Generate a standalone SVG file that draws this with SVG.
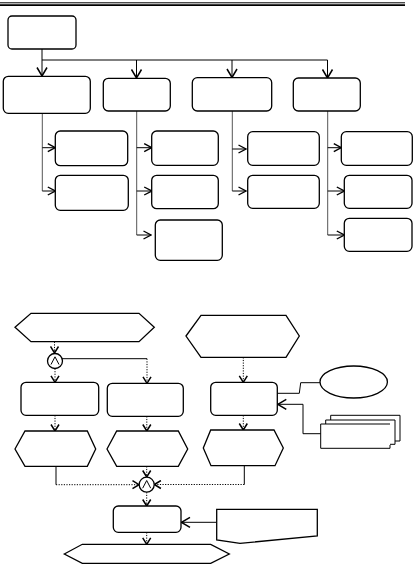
<svg xmlns="http://www.w3.org/2000/svg" width="414" height="565" viewBox="0 0 414 565">
<style>
.b{fill:#fff;stroke:#000;stroke-width:1.3}
.l{fill:none;stroke:#000;stroke-width:1}
.g{fill:none;stroke:#555;stroke-width:1}
.d{fill:none;stroke:#000;stroke-width:1;stroke-dasharray:1.2 1.4}
</style>
<defs>
<marker id="a" markerUnits="userSpaceOnUse" viewBox="0 0 10 12" refX="9.5" refY="6" markerWidth="10" markerHeight="12" orient="auto"><path d="M1,1 L9.5,6 L1,11" fill="none" stroke="#000" stroke-width="1.5" stroke-dasharray="none"/></marker>
<marker id="s" markerUnits="userSpaceOnUse" viewBox="0 0 9 10" refX="8.5" refY="5" markerWidth="9" markerHeight="10" orient="auto"><path d="M1,1 L8.5,5 L1,9" fill="none" stroke="#000" stroke-width="1.4" stroke-dasharray="none"/></marker>
<marker id="m" markerUnits="userSpaceOnUse" viewBox="0 0 8 10" refX="7.5" refY="5" markerWidth="8" markerHeight="10" orient="auto"><path d="M1,1 L7.5,5 L1,9" fill="none" stroke="#000" stroke-width="1.5" stroke-dasharray="none"/></marker>
</defs>
<g id="header">
<line x1="0" y1="2.8" x2="405" y2="2.8" stroke="#000" stroke-width="1"/>
<line x1="0" y1="5.2" x2="405" y2="5.2" stroke="#000" stroke-width="1.8"/>
</g>
<g id="connectors">
<path class="l" d="M42,49 V76" marker-end="url(#a)"/>
<path class="l" d="M42,60 H327.5"/>
<path class="l" d="M136.5,60 V78" marker-end="url(#a)"/>
<path class="l" d="M232,60 V77.5" marker-end="url(#a)"/>
<path class="l" d="M327.5,60 V78" marker-end="url(#a)"/>
<path class="g" d="M42.3,113.3 V191"/>
<path class="l" d="M42.3,147.7 H55.3" marker-end="url(#s)"/>
<path class="l" d="M42.3,191 H55.3" marker-end="url(#s)"/>
<path class="g" d="M136.7,111 V235"/>
<path class="l" d="M136.7,147.7 H151.7" marker-end="url(#s)"/>
<path class="l" d="M136.7,191 H151.7" marker-end="url(#s)"/>
<path class="l" d="M136.7,235 H151" marker-end="url(#s)"/>
<path class="g" d="M232.3,111 V191"/>
<path class="l" d="M232.3,149 H246" marker-end="url(#s)"/>
<path class="l" d="M232.3,191 H246" marker-end="url(#s)"/>
<path class="g" d="M327.7,111 V235"/>
<path class="l" d="M327.7,147.7 H341.3" marker-end="url(#s)"/>
<path class="l" d="M327.7,191 H344.3" marker-end="url(#s)"/>
<path class="l" d="M327.7,235 H344.3" marker-end="url(#s)"/>
<path class="d" d="M54.5,341.7 V353" marker-end="url(#m)"/>
<path class="d" d="M55,368.5 V382.3" marker-end="url(#m)"/>
<path class="l" d="M62,358.7 H147"/>
<path class="d" d="M147,358.7 V383.3" marker-end="url(#m)"/>
<path class="d" d="M243.3,357.3 V382.3" marker-end="url(#m)"/>
<path class="l" d="M277.3,393.3 H299.3 L300.7,382.7 H320"/>
<path class="l" d="M320.7,433.7 H303 V404.3 H277.8" marker-end="url(#a)"/>
<path class="d" d="M55,415.3 V431" marker-end="url(#m)"/>
<path class="d" d="M146.8,416.3 V431" marker-end="url(#m)"/>
<path class="d" d="M243.3,415.3 V430" marker-end="url(#m)"/>
<path class="l" d="M56,466.3 V484.7"/>
<path class="d" d="M56,484.7 H139" marker-end="url(#m)"/>
<path class="d" d="M146.7,466.3 V477" marker-end="url(#m)"/>
<path class="l" d="M244.3,465.7 V484.5"/>
<path class="d" d="M244.3,484.5 H154.4" marker-end="url(#m)"/>
<path class="d" d="M146.7,492.2 V506" marker-end="url(#m)"/>
<path class="l" d="M216.7,522.3 H181.5" marker-end="url(#a)"/>
<path class="d" d="M146.7,532.3 V544.3" marker-end="url(#m)"/>
</g>
<g id="n_root"><rect class="b" x="8" y="16" width="68" height="33" rx="4"/></g>
<g id="n_a"><rect class="b" x="3.3" y="76.3" width="87" height="37" rx="5"/></g>
<g id="n_b"><rect class="b" x="103.3" y="78.3" width="67" height="32.7" rx="5"/></g>
<g id="n_c"><rect class="b" x="192.3" y="77.7" width="79.4" height="33.3" rx="5"/></g>
<g id="n_d"><rect class="b" x="293.3" y="78" width="67" height="33" rx="5"/></g>
<g id="n_a1"><rect class="b" x="55.3" y="131" width="72.4" height="34.7" rx="5"/></g>
<g id="n_a2"><rect class="b" x="55.3" y="175.3" width="73" height="35" rx="5"/></g>
<g id="n_b1"><rect class="b" x="151.7" y="131" width="66.6" height="34.3" rx="5"/></g>
<g id="n_b2"><rect class="b" x="151.7" y="175.3" width="66.6" height="33.4" rx="5"/></g>
<g id="n_b3"><rect class="b" x="155.3" y="220" width="67" height="40.3" rx="5"/></g>
<g id="n_c1"><rect class="b" x="247.7" y="131.7" width="71.6" height="33.6" rx="5"/></g>
<g id="n_c2"><rect class="b" x="247.7" y="175.3" width="71.6" height="33" rx="5"/></g>
<g id="n_d1"><rect class="b" x="341.3" y="131.7" width="71" height="33.6" rx="5"/></g>
<g id="n_d2"><rect class="b" x="344.3" y="175.3" width="67.7" height="33" rx="5"/></g>
<g id="n_d3"><rect class="b" x="344.3" y="218.3" width="67.7" height="33" rx="5"/></g>
<g id="n_hex1"><polygon class="b" points="15,327.3 31,313.3 139,313.3 154.3,327.3 139,341.7 31,341.7"/></g>
<g id="n_hex2"><polygon class="b" points="186,336 201,315.3 286,315.3 299.3,336 286,357.3 201,357.3"/></g>
<g id="n_and1"><circle class="b" cx="55" cy="361" r="7.5"/><path class="l" d="M51,364.5 L55,356.8 L59,364.5"/></g>
<g id="n_f1"><rect class="b" x="21" y="382.3" width="77.7" height="33" rx="5"/></g>
<g id="n_f2"><rect class="b" x="107.3" y="383.3" width="76" height="33" rx="5"/></g>
<g id="n_f3"><rect class="b" x="210.7" y="382.3" width="66.6" height="33" rx="5"/></g>
<g id="n_ellipse"><ellipse class="b" cx="353.7" cy="382" rx="33.7" ry="16"/></g>
<g id="n_docs">
<polyline class="l" points="330.7,420 330.7,415.3 400,415.3 400,441 395,441"/>
<polyline class="l" points="325.7,424 325.7,420 395,420 395,444.3 390,444.3"/>
<polyline class="l" points="390,424 320.7,424 320.7,448.3 390,448.3 390,445"/>
</g>
<g id="n_hexA"><polygon class="b" points="15,449 25,431 87.3,431 95.7,449 87.3,466.3 25,466.3"/></g>
<g id="n_hexB"><polygon class="b" points="107,449 116.7,431 178.3,431 187.7,449 178.3,466.3 116.7,466.3"/></g>
<g id="n_hexC"><polygon class="b" points="203.3,448 210.7,430 274,430 283.3,448 275,465.7 211,465.7"/></g>
<g id="n_and2"><circle class="b" cx="146.7" cy="484.7" r="7.5"/><path class="l" d="M142.7,488.2 L146.7,480.5 L150.7,488.2"/></g>
<g id="n_f4"><rect class="b" x="113.3" y="506" width="67.7" height="26.3" rx="5"/></g>
<g id="n_doc"><path class="b" d="M216.7,509.3 H317.3 V536 L240,543.3 L216.7,540 Z"/></g>
<g id="n_end"><polygon class="b" points="64.3,554 82.3,544.3 210.7,544.3 229.3,554 210.7,563.3 82.3,563.3"/></g>
</svg>
